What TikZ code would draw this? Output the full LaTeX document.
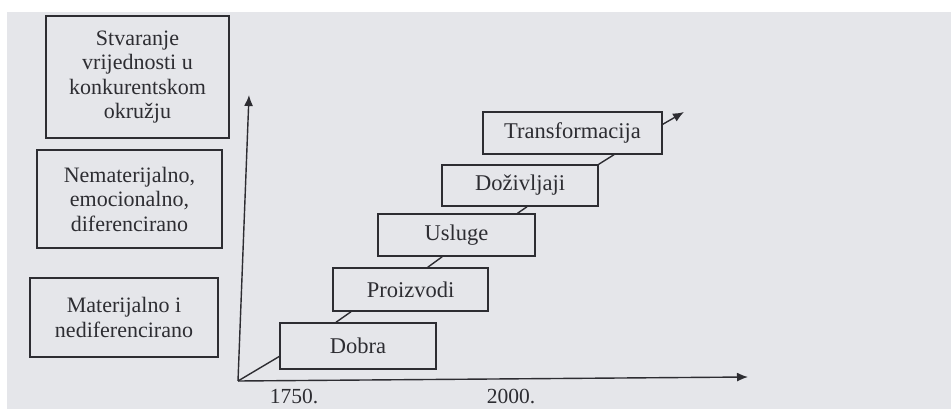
\documentclass[tikz,border=0pt]{standalone}
\usepackage{fontspec}
\setmainfont{Liberation Serif}
\usetikzlibrary{arrows.meta,calc}
\definecolor{bg}{RGB}{229,230,234}
\definecolor{ink}{RGB}{45,45,50}
\begin{document}
\begin{tikzpicture}[x=1pt,y=-1pt,
  box/.style={draw=ink, line width=1.4pt, fill=bg, text=ink, inner sep=0pt,
              font=\fontsize{22.5}{24}\selectfont},
  side/.style={box, align=center, font=\fontsize{22}{24.5}\selectfont},
  lbl/.style={text=ink, inner sep=0pt, font=\fontsize{21.5}{24}\selectfont},
  link/.style={draw=ink, line width=1.4pt},
  axis/.style={link, -{Latex[length=11pt,width=9pt]}}]
\fill[bg] (0,0) rectangle (951,409);
\fill[white] (0,0) rectangle (951,12);
\fill[white] (0,0) rectangle (7,409);
\useasboundingbox (0,0) rectangle (951,409);

% left column
\node[side, minimum width=183pt, minimum height=122pt] (s1) at (137.5,77)
  {Stvaranje\\vrijednosti u\\konkurentskom\\okružju};
\node[side, minimum width=185pt, minimum height=98pt] (s2) at (129.5,199)
  {Nematerijalno,\\emocionalno,\\diferencirano};
\node[side, minimum width=188pt, minimum height=79pt] (s3) at (124,317.5)
  {Materijalno i\\nediferencirano};

% axes
\coordinate (o) at (238,381);
\coordinate (ytip) at (249,95);
\coordinate (xtip) at (748,377);
\draw[axis] (o) -- (ytip);
\draw[axis] (o) -- (xtip);
\node[lbl] (l1750) at (294,397) {1750.};
\node[lbl] (l2000) at (511,397) {2000.};

% staircase
\node[box, minimum width=156pt, minimum height=46pt] (dobra) at (358,346) {Dobra};
\node[box, minimum width=155pt, minimum height=43pt] (proiz) at (410.5,289.5) {Proizvodi};
\node[box, minimum width=157pt, minimum height=42pt] (usl) at (456.5,235) {Usluge};
\node[box, minimum width=156pt, minimum height=41pt] (doz) at (520,185.5) {Doživljaji};
\node[box, minimum width=179pt, minimum height=42pt] (trans) at (572.5,133) {Transformacija};
\coordinate (ttip) at (684,112);

\draw[link] (o) -- ($(dobra.south west)!0.28!(dobra.north west)$);
\draw[link] ($(dobra.north west)!0.36!(dobra.north east)$) -- ($(proiz.south west)!0.12!(proiz.south east)$);
\draw[link] ($(proiz.north west)!0.61!(proiz.north east)$) -- ($(usl.south west)!0.41!(usl.south east)$);
\draw[link] ($(usl.north west)!0.885!(usl.north east)$) -- ($(doz.south west)!0.545!(doz.south east)$);
\draw[link] (doz.north east) -- ($(trans.south west)!0.73!(trans.south east)$);
\draw[axis] ($(trans.north east)!0.3!(trans.south east)$) -- (ttip);
\end{tikzpicture}
\end{document}
